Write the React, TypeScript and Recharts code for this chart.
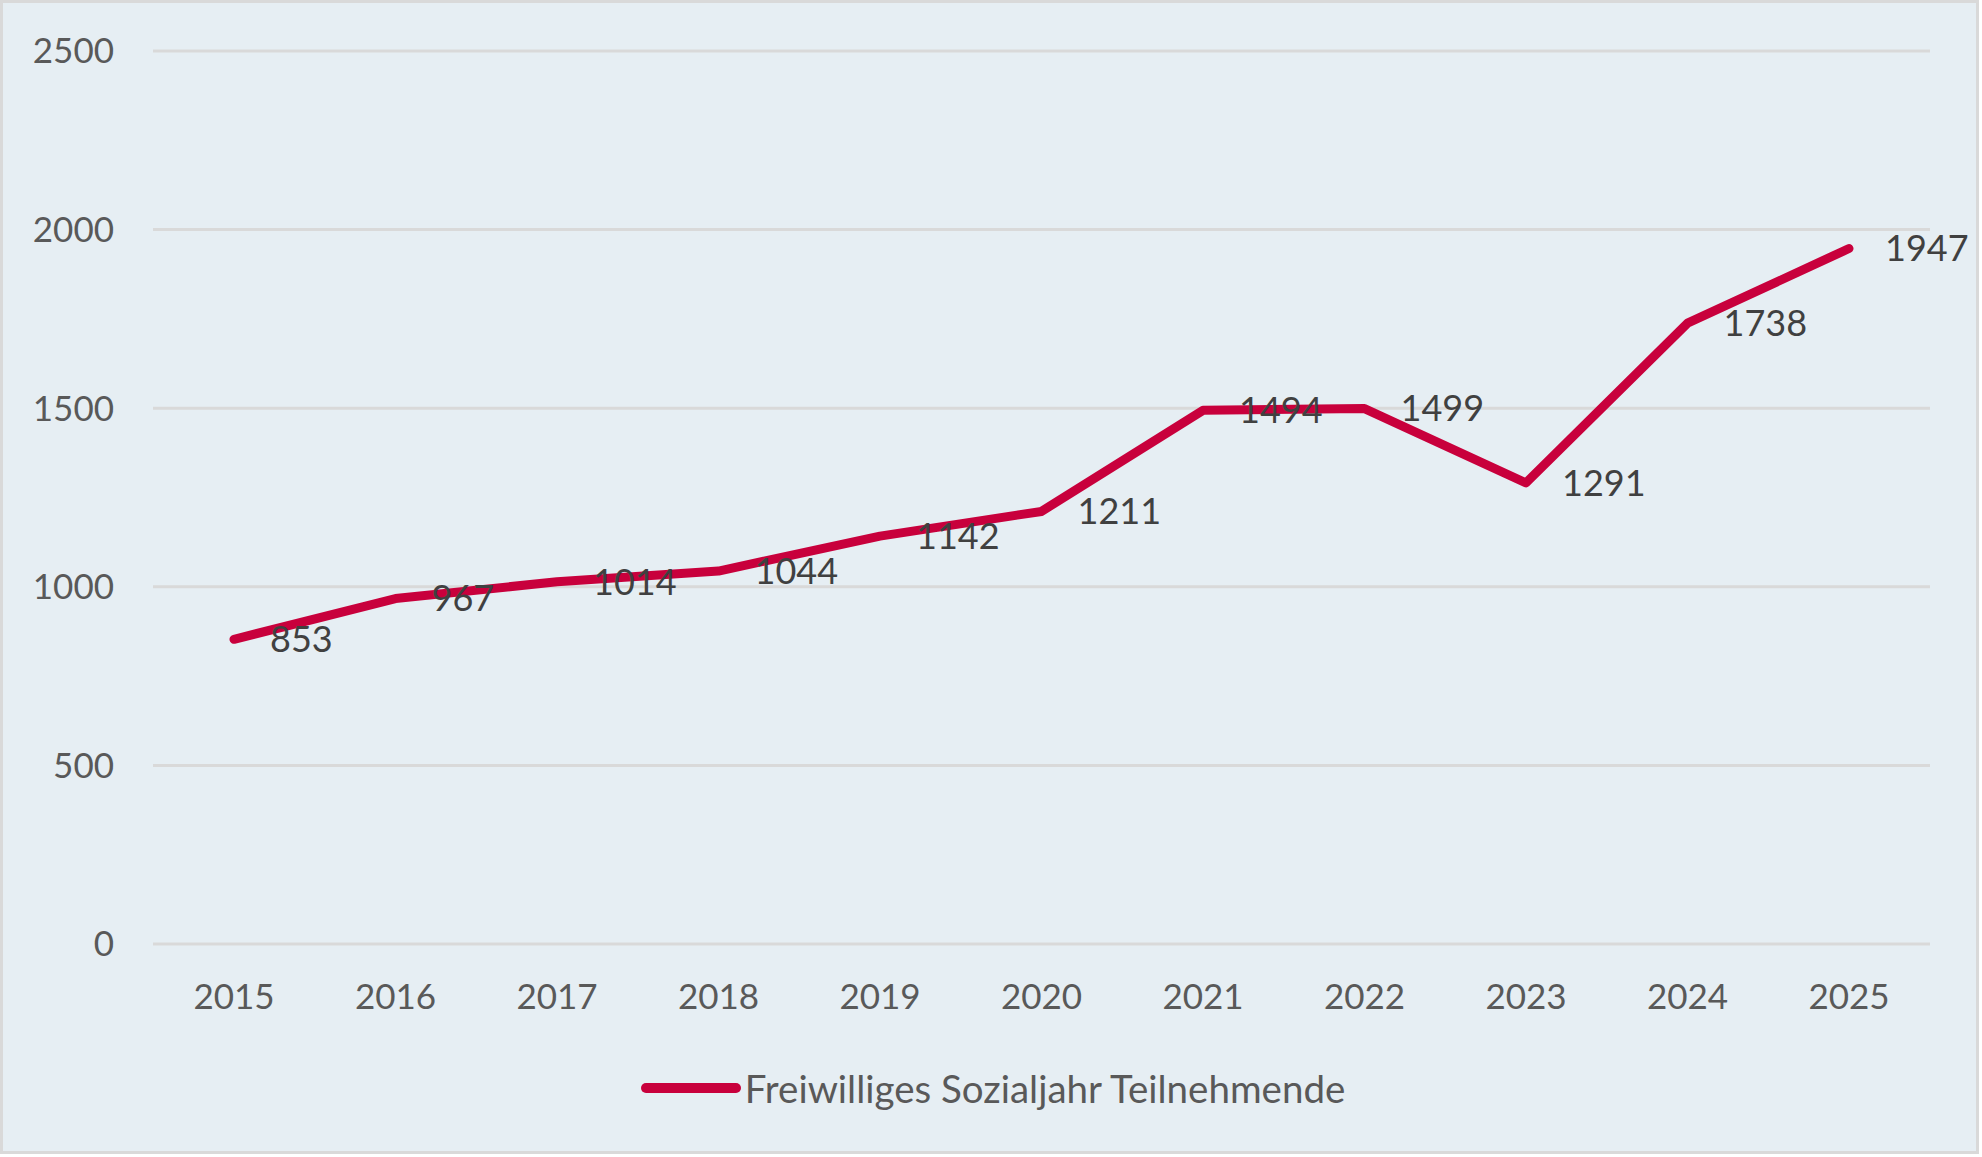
import React from "react";
import {
  LineChart,
  Line,
  XAxis,
  YAxis,
  CartesianGrid,
  Legend,
  LabelList,
} from "recharts";

const years = ["2015", "2016", "2017", "2018", "2019", "2020", "2021", "2022", "2023", "2024", "2025"];
const participants = [853, 967, 1014, 1044, 1142, 1211, 1494, 1499, 1291, 1738, 1947];
const yTicks = [0, 500, 1000, 1500, 2000, 2500];
const seriesName = "Freiwilliges Sozialjahr Teilnehmende";

const data = years.map((year, i) => ({ year, value: participants[i] }));

const RED = "#C8003C";
const FONT = "Lato, 'Open Sans', sans-serif";

function LegendContent() {
  return (
    <div
      style={{
        display: "flex",
        justifyContent: "center",
        alignItems: "center",
        height: 60,
        paddingLeft: 56,
      }}
    >
      <svg width={100} height={20} style={{ marginRight: 4 }}>
        <line x1={5} y1={10} x2={95} y2={10} stroke={RED} strokeWidth={10} strokeLinecap="round" />
      </svg>
      <span style={{ fontFamily: FONT, fontSize: 38.5, color: "#595959" }}>{seriesName}</span>
    </div>
  );
}

export default function App() {
  return (
    <div
      style={{
        position: "absolute",
        left: 0,
        top: 0,
        width: 1979,
        height: 1154,
        boxSizing: "border-box",
        border: "3px solid #D9D9D9",
        background: "#E6EEF3",
      }}
    >
      <div style={{ position: "absolute", left: -3, top: -3 }}>
        <LineChart
          width={1979}
          height={1154}
          data={data}
          margin={{ top: 51, right: 49, left: 0, bottom: 36 }}
        >
          <CartesianGrid vertical={false} stroke="#D9D9D9" strokeWidth={3} />
          <XAxis
            dataKey="year"
            axisLine={false}
            tickLine={false}
            tickSize={0}
            tickMargin={40}
            height={114}
            padding={{ left: 81, right: 81 }}
            tick={{ fill: "#595959", fontSize: 35, fontFamily: FONT }}
          />
          <YAxis
            domain={[0, 2500]}
            ticks={yTicks}
            axisLine={false}
            tickLine={false}
            tickSize={0}
            tickMargin={39}
            width={153}
            tick={{ fill: "#595959", fontSize: 35, fontFamily: FONT }}
          />
          <Legend verticalAlign="bottom" height={60} content={<LegendContent />} />
          <Line
            type="linear"
            dataKey="value"
            name={seriesName}
            stroke={RED}
            strokeWidth={9}
            strokeLinecap="round"
            strokeLinejoin="round"
            dot={false}
            isAnimationActive={false}
          >
            <LabelList
              dataKey="value"
              position="right"
              offset={36}
              fill="#404040"
              fontSize={36}
              fontFamily={FONT}
            />
          </Line>
        </LineChart>
      </div>
    </div>
  );
}
